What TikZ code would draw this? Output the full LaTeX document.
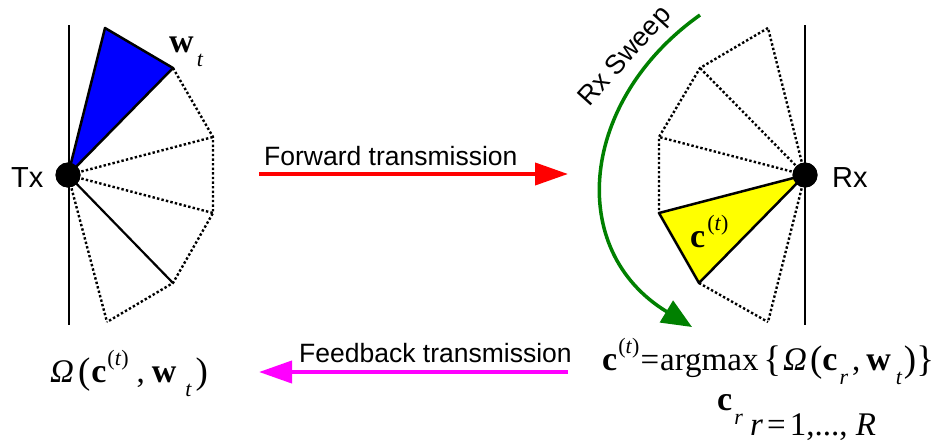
\documentclass[tikz,border=0pt]{standalone}
\usepackage{fontspec}
\setmainfont{Liberation Serif}
\newfontfamily\arialfont{Liberation Sans}
\usetikzlibrary{arrows.meta}
\definecolor{mblue}{RGB}{0,0,255}
\definecolor{myellow}{RGB}{255,255,0}
\definecolor{mred}{RGB}{255,0,0}
\definecolor{mmagenta}{RGB}{255,0,255}
\definecolor{mgreen}{RGB}{0,128,0}
\newcommand\bvec[1]{{\fontsize{34}{34}\selectfont\bfseries #1}}
\newcommand\mysup[1]{\raisebox{17pt}{\fontsize{22}{22}\selectfont #1}}
\newcommand\mysub[1]{\raisebox{-14pt}{\fontsize{22}{22}\selectfont\itshape #1}}
\newcommand\bigp[1]{\raisebox{-1pt}{\fontsize{37}{37}\selectfont #1}}
\begin{document}
\begin{tikzpicture}[x=1pt,y=-1pt,
  wall/.style={line width=2pt},
  fanline/.style={line width=2.4pt, dash pattern=on 2.4pt off 2.2pt},
  beamline/.style={line width=2.2pt},
  beam/.style={line width=2.5pt, line join=round, draw=black},
  lbl/.style={font=\arialfont\fontsize{26.5}{30}\selectfont, inner sep=0pt},
  side/.style={font=\arialfont\fontsize{29}{32}\selectfont, inner sep=0pt},
  formula/.style={font=\fontsize{33}{35}\selectfont, inner sep=0pt},
  dot/.style={circle, fill=black, minimum size=25pt, inner sep=0pt}]
\useasboundingbox (0,0) rectangle (936,447);
\fill[white] (0,0) rectangle (936,447);

% ---------- Tx side ----------
\coordinate (lwt) at (69,25);
\coordinate (lwb) at (69,325);
\coordinate (l1) at (105,28);
\coordinate (l2) at (173,68);
\coordinate (l3) at (213,137);
\coordinate (l4) at (213,213);
\coordinate (l5) at (173,283);
\coordinate (l6) at (107,322);
\draw[wall] (lwt) -- (lwb);
\node[dot] (tx) at (68,175) {};
\draw[fanline] (l2) -- (l3) -- (l4) -- (l5) -- (l6);
\draw[fanline] (tx.center) -- (l3);
\draw[fanline] (tx.center) -- (l4);
\draw[fanline] (tx.center) -- (l6);
\draw[beamline] (tx.center) -- (l5);
\filldraw[fill=mblue, beam] (tx.center) -- (l1) -- (l2) -- cycle;
\node[dot] at (tx.center) {};
\node[side, anchor=base west] (txl) at (11,187) {Tx};
\node[formula, anchor=base west] (wt) at (169,52) {\bvec{w}\kern3pt\mysub{t}};

% ---------- Rx side ----------
\coordinate (rwt) at (805,25);
\coordinate (rwb) at (805,325);
\coordinate (r1) at (768,28);
\coordinate (r2) at (700,68);
\coordinate (r3) at (659,137);
\coordinate (r4) at (659,213);
\coordinate (r5) at (699,283);
\coordinate (r6) at (768,322);
\draw[wall] (rwt) -- (rwb);
\node[dot] (rx) at (805,175) {};
\draw[fanline] (r1) -- (r2) -- (r3) -- (r4);
\draw[fanline] (r5) -- (r6);
\draw[fanline] (rx.center) -- (r1);
\draw[fanline] (rx.center) -- (r2);
\draw[fanline] (rx.center) -- (r3);
\draw[fanline] (rx.center) -- (r6);
\filldraw[fill=myellow, beam] (rx.center) -- (r4) -- (r5) -- cycle;
\node[dot] at (rx.center) {};
\node[side, anchor=base west] (rxl) at (832,187) {Rx};
\node[formula, anchor=base west] (ct) at (690,247) {\bvec{c}\kern2pt\mysup{(\textit{t})}};

% ---------- Rx sweep ----------
\coordinate (sw0) at (700,15);
\coordinate (sw1) at (692,327);
\draw[line width=3.5pt, draw=mgreen,
  -{Triangle[length=30pt,width=25pt]}]
  (sw0) .. controls (580,100) and (565,250) .. (sw1);
\node[lbl, rotate=48, font=\arialfont\fontsize{27}{30}\selectfont] (sweep) at (626,57) {Rx Sweep};

% ---------- transmissions ----------
\coordinate (f0) at (259,174);
\coordinate (f1) at (568,174);
\draw[mred, line width=4pt, -{Triangle[length=33pt,width=22pt]}] (f0) -- (f1);
\node[lbl, anchor=base west] (fwd) at (264,165) {Forward transmission};

\coordinate (b0) at (568,372);
\coordinate (b1) at (259,372);
\draw[mmagenta, line width=4pt, -{Triangle[length=33pt,width=22pt]}] (b0) -- (b1);
\node[lbl, anchor=base west] (fb) at (299,362) {Feedback transmission};

% ---------- formulas ----------
\node[formula, anchor=base west] (omg) at (50,382)
  {\textit{Ω}\kern4pt\bigp{(}\kern1pt\bvec{c}\kern1pt\mysup{(\textit{t})}\kern8pt,\kern7pt\bvec{w}\kern9pt\mysub{t}\kern4pt\bigp{)}};
\node[formula, anchor=base west] (am) at (602,370)
  {\bvec{c}\kern1pt\mysup{(\textit{t})}\kern1pt=\kern1pt{argmax}\kern5pt\bigp{\{}\kern2pt\textit{Ω}\kern3pt\bigp{(}\bvec{c}\kern2pt\mysub{r}\kern4pt,\kern6pt\bvec{w}\kern5pt\mysub{t}\kern2pt\bigp{)}\bigp{\}}};
\node[formula, anchor=base west] (cr) at (717,410) {\bvec{c}\kern2pt\mysub{r}};
\node[formula, anchor=base west] (rr) at (750,435) {\textit{r}\kern4pt=\kern4pt1,..., \textit{R}};
\end{tikzpicture}
\end{document}
